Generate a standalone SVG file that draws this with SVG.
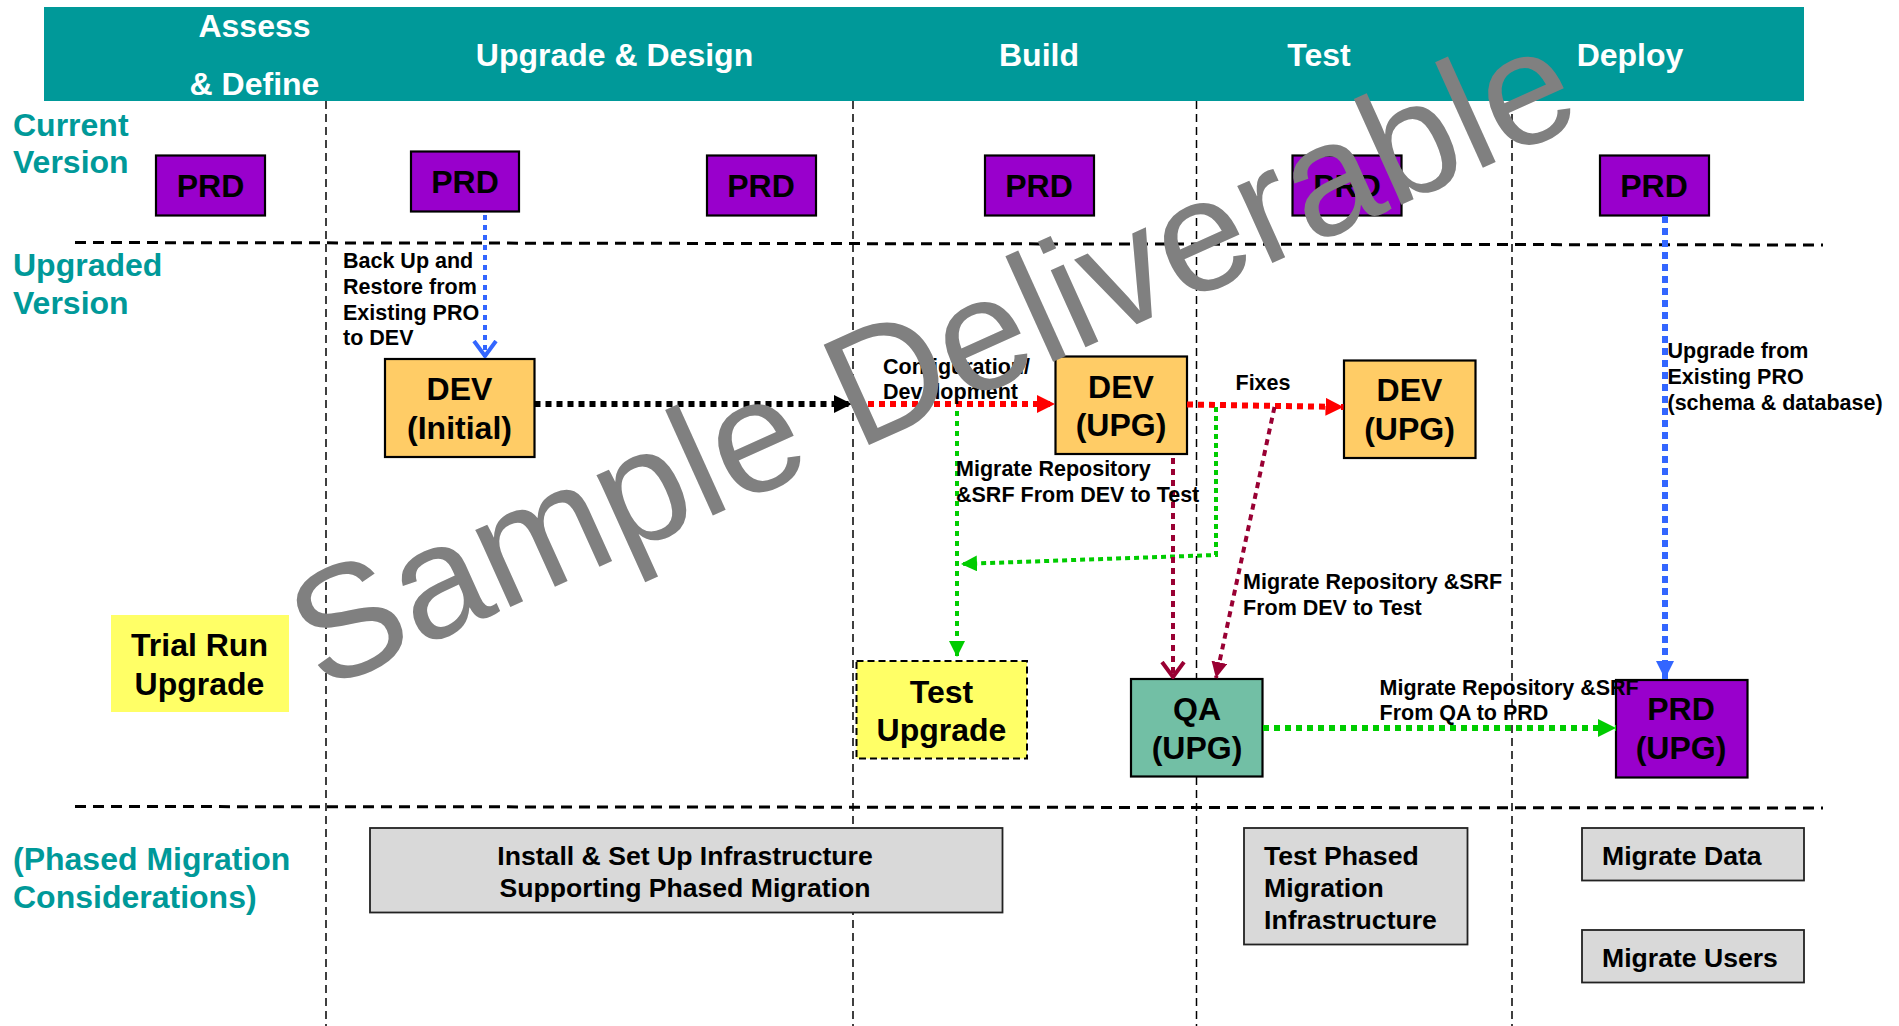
<svg xmlns="http://www.w3.org/2000/svg" width="1899" height="1026" viewBox="0 0 1899 1026">
<style>
text{font-family:"Liberation Sans",Arial,sans-serif;font-weight:bold;fill:#000}
.h{font-size:32px;fill:#fff;text-anchor:middle}
.side{font-size:32px;fill:#009999}
.n{font-size:32px;text-anchor:middle}
.g{font-size:26.600px}
.gm{font-size:26.600px;text-anchor:middle}
.l{font-size:21.500px}
.box{stroke:#000;stroke-width:2.200}
.prd{fill:#9900CC}.dev{fill:#FFCC66}.qa{fill:#72BFA5}.try{fill:#FFFF66}.gray{fill:#D9D9D9;stroke:#222;stroke-width:1.800}
.v{stroke:#000;stroke-width:1.500;stroke-dasharray:8 5;fill:none}
.hd{stroke:#000;stroke-width:3;stroke-dasharray:11 7;fill:none}
.c{fill:none}
.wm{font-family:"Liberation Sans",Arial,sans-serif;font-weight:normal;font-size:160px;fill:#808080}
</style>
<defs>
<marker id="ak" markerUnits="userSpaceOnUse" markerWidth="18" markerHeight="18" refX="18" refY="9" orient="auto"><path d="M0 0L18 9L0 18Z" fill="#000"/></marker>
<marker id="ar" markerUnits="userSpaceOnUse" markerWidth="18" markerHeight="18" refX="18" refY="9" orient="auto"><path d="M0 0L18 9L0 18Z" fill="#FF0000"/></marker>
<marker id="ag" markerUnits="userSpaceOnUse" markerWidth="18" markerHeight="18" refX="18" refY="9" orient="auto"><path d="M0 0L18 9L0 18Z" fill="#00CC00"/></marker>
<marker id="ag2" markerUnits="userSpaceOnUse" markerWidth="16" markerHeight="16" refX="16" refY="8" orient="auto"><path d="M0 0L16 8L0 16Z" fill="#00CC00"/></marker>
<marker id="ab" markerUnits="userSpaceOnUse" markerWidth="18" markerHeight="18" refX="18" refY="9" orient="auto"><path d="M0 0L18 9L0 18Z" fill="#3366FF"/></marker>
<marker id="abo" markerUnits="userSpaceOnUse" markerWidth="18" markerHeight="26" refX="17" refY="13" orient="auto"><path d="M1 2L16 13L1 24" fill="none" stroke="#3366FF" stroke-width="4"/></marker>
<marker id="am" markerUnits="userSpaceOnUse" markerWidth="16" markerHeight="16" refX="16" refY="8" orient="auto"><path d="M0 0L16 8L0 16Z" fill="#990033"/></marker>
<marker id="amo" markerUnits="userSpaceOnUse" markerWidth="18" markerHeight="26" refX="17" refY="13" orient="auto"><path d="M1 2L16 13L1 24" fill="none" stroke="#990033" stroke-width="4"/></marker>
</defs>
<rect width="1899" height="1026" fill="#fff"/>
<g id="header">
<rect x="44" y="7" width="1760" height="94" fill="#009999"/>
<text class="h" x="254.500" y="37">Assess</text>
<text class="h" x="254.500" y="95">&amp; Define</text>
<text class="h" x="614.500" y="66">Upgrade &amp; Design</text>
<text class="h" x="1039" y="66">Build</text>
<text class="h" x="1319" y="66">Test</text>
<text class="h" x="1630" y="66">Deploy</text>
</g>
<g id="gridlines">
<path class="v" d="M326 101V1026M853 101V1026M1196.500 101V1026M1512 101V1026"/>
<path class="hd" d="M75 242.500L1823 245M75 806.500L1823 808"/>
</g>
<g id="side-labels">
<text class="side" x="13" y="135.500">Current</text>
<text class="side" x="13" y="172.500">Version</text>
<text class="side" x="13" y="276">Upgraded</text>
<text class="side" x="13" y="313.500">Version</text>
<text class="side" x="13" y="870">(Phased Migration</text>
<text class="side" x="13" y="908">Considerations)</text>
</g>
<g id="prd-1"><rect class="box prd" x="156" y="155.500" width="109" height="60"/><text class="n" x="210.500" y="197">PRD</text></g>
<g id="prd-2"><rect class="box prd" x="411" y="151.500" width="108" height="60"/><text class="n" x="465" y="193">PRD</text></g>
<g id="prd-3"><rect class="box prd" x="707" y="155.500" width="109" height="60"/><text class="n" x="761" y="197">PRD</text></g>
<g id="prd-4"><rect class="box prd" x="985" y="155.500" width="109" height="60"/><text class="n" x="1039" y="197">PRD</text></g>
<g id="prd-5"><rect class="box prd" x="1292.500" y="155.500" width="109" height="60"/><text class="n" x="1347" y="197">PRD</text></g>
<g id="prd-6"><rect class="box prd" x="1600" y="155.500" width="109" height="60"/><text class="n" x="1654" y="197">PRD</text></g>
<g id="dev-initial"><rect class="box dev" x="385" y="359" width="149.500" height="98"/><text class="n" x="459.500" y="400">DEV</text><text class="n" x="459.500" y="438.500">(Initial)</text></g>
<g id="dev-upg-1"><rect class="box dev" x="1055.500" y="356.500" width="131.500" height="97.500"/><text class="n" x="1121" y="397.500">DEV</text><text class="n" x="1121" y="436">(UPG)</text></g>
<g id="dev-upg-2"><rect class="box dev" x="1344" y="360.500" width="131.500" height="97.500"/><text class="n" x="1409.500" y="401">DEV</text><text class="n" x="1409.500" y="440">(UPG)</text></g>
<g id="trial-run"><rect class="try" x="111" y="615" width="178" height="97"/><text class="n" x="199.500" y="656">Trial Run</text><text class="n" x="199.500" y="695">Upgrade</text></g>
<g id="test-upgrade"><rect class="try" x="856.500" y="661" width="170.500" height="97.500" stroke="#000" stroke-width="2" stroke-dasharray="7 4"/><text class="n" x="941.500" y="703">Test</text><text class="n" x="941.500" y="741">Upgrade</text></g>
<g id="qa-upg"><rect class="box qa" x="1131" y="679" width="131.500" height="97.500"/><text class="n" x="1197" y="720">QA</text><text class="n" x="1197" y="759">(UPG)</text></g>
<g id="prd-upg"><rect class="box prd" x="1616" y="680" width="131.500" height="97.500"/><text class="n" x="1681" y="720">PRD</text><text class="n" x="1681" y="759">(UPG)</text></g>
<g id="install"><rect class="gray" x="370" y="828" width="632.500" height="84.500"/><text class="gm" x="685" y="864.500">Install &amp; Set Up Infrastructure</text><text class="gm" x="685" y="896.500">Supporting Phased Migration</text></g>
<g id="test-phased"><rect class="gray" x="1244" y="828" width="223.500" height="116.500"/><text class="g" x="1264" y="864.500">Test Phased</text><text class="g" x="1264" y="896.500">Migration</text><text class="g" x="1264" y="928.500">Infrastructure</text></g>
<g id="migrate-data"><rect class="gray" x="1582" y="828" width="222" height="52.500"/><text class="g" x="1602" y="864.500">Migrate Data</text></g>
<g id="migrate-users"><rect class="gray" x="1582" y="930" width="222" height="52.500"/><text class="g" x="1602" y="967">Migrate Users</text></g>
<g id="connectors" class="c">
<path d="M534.500 404H852" stroke="#000" stroke-width="6" stroke-dasharray="6 5" marker-end="url(#ak)"/>
<path d="M868 404H1055" stroke="#FF0000" stroke-width="6" stroke-dasharray="6 5" marker-end="url(#ar)"/>
<path d="M1187 404.500L1343.500 407" stroke="#FF0000" stroke-width="6" stroke-dasharray="6 5" marker-end="url(#ar)"/>
<path d="M957 411V657" stroke="#00CC00" stroke-width="4" stroke-dasharray="5 5" marker-end="url(#ag2)"/>
<path d="M1216 407V555L961 564" stroke="#00CC00" stroke-width="4" stroke-dasharray="5 4" marker-end="url(#ag2)"/>
<path d="M1173 458V678" stroke="#990033" stroke-width="4" stroke-dasharray="6 5" marker-end="url(#amo)"/>
<path d="M1274.500 407L1216 678" stroke="#990033" stroke-width="4" stroke-dasharray="6 5" marker-end="url(#am)"/>
<path d="M485 215V357" stroke="#3366FF" stroke-width="4" stroke-dasharray="5 5" marker-end="url(#abo)"/>
<path d="M1665 216V679" stroke="#3366FF" stroke-width="6" stroke-dasharray="7 5" marker-end="url(#ab)"/>
<path d="M1263 728H1616" stroke="#00CC00" stroke-width="6" stroke-dasharray="6 5" marker-end="url(#ag)"/>
</g>
<g id="labels">
<text class="l" x="343" y="268">Back Up and</text>
<text class="l" x="343" y="294">Restore from</text>
<text class="l" x="343" y="320">Existing PRO</text>
<text class="l" x="343" y="345">to DEV</text>
<text class="l" x="883" y="374">Configuration/</text>
<text class="l" x="883" y="399">Development</text>
<text class="l" x="1235.500" y="390">Fixes</text>
<text class="l" x="956" y="476">Migrate Repository</text>
<text class="l" x="956" y="502">&amp;SRF From DEV to Test</text>
<text class="l" x="1243" y="589">Migrate Repository &amp;SRF</text>
<text class="l" x="1243" y="615">From DEV to Test</text>
<text class="l" x="1379.500" y="695">Migrate Repository &amp;SRF</text>
<text class="l" x="1379.500" y="720">From QA to PRD</text>
<text class="l" x="1667.500" y="358">Upgrade from</text>
<text class="l" x="1667.500" y="384">Existing PRO</text>
<text class="l" x="1667.500" y="410">(schema &amp; database)</text>
</g>
<g id="watermark"><text class="wm" transform="translate(322 692) rotate(-24.300)">Sample Deliverable</text></g>
</svg>
